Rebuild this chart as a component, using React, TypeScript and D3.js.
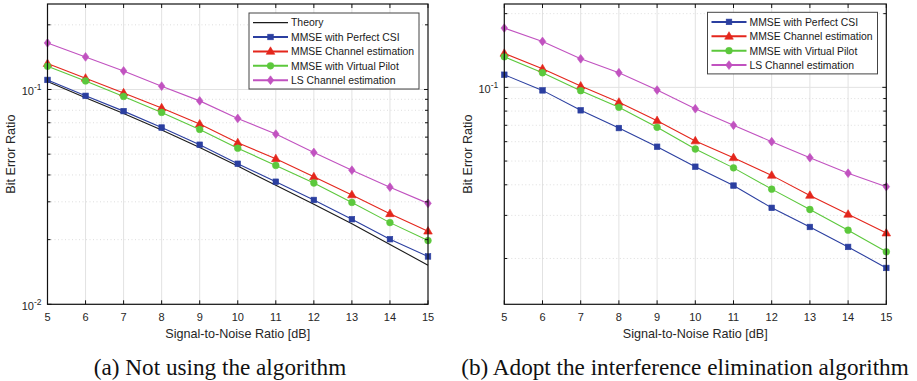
import React from 'react';
import * as d3 from 'd3';

// ---------- data ----------
const snr = [5, 6, 7, 8, 9, 10, 11, 12, 13, 14, 15];

// (a) Not using the algorithm
const theoryA = [0.1088, 0.0916, 0.0774, 0.0648, 0.0537, 0.0440, 0.0358, 0.0292, 0.0237, 0.0190, 0.0152];
const perfectA = [0.1108, 0.0934, 0.0793, 0.0665, 0.0553, 0.0451, 0.0372, 0.0306, 0.0249, 0.0201, 0.0167];
const channelA = [0.1320, 0.1128, 0.0964, 0.0821, 0.0690, 0.0565, 0.0476, 0.0392, 0.0323, 0.0264, 0.0219];
const virtualA = [0.1283, 0.1096, 0.0928, 0.0782, 0.0652, 0.0533, 0.0443, 0.0367, 0.0298, 0.0240, 0.0198];
const lsA = [0.1647, 0.1418, 0.1220, 0.1036, 0.0885, 0.0733, 0.0620, 0.0509, 0.0421, 0.0351, 0.0295];

// (b) Adopt the interference elimination algorithm
const perfectB = [0.1126, 0.0972, 0.0806, 0.0682, 0.0572, 0.0474, 0.0397, 0.0322, 0.0269, 0.0223, 0.0183];
const channelB = [0.1377, 0.1191, 0.1012, 0.0869, 0.0731, 0.0604, 0.0516, 0.0437, 0.0362, 0.0303, 0.0254];
const virtualB = [0.1333, 0.1147, 0.0969, 0.0829, 0.0687, 0.0560, 0.0469, 0.0384, 0.0317, 0.0261, 0.0213];
const lsB = [0.1746, 0.1540, 0.1308, 0.1147, 0.0975, 0.0818, 0.0700, 0.0600, 0.0516, 0.0446, 0.0393];

const xTicks = [5, 6, 7, 8, 9, 10, 11, 12, 13, 14, 15];
const yMajorTicks = [0.01, 0.1];
const yMajorExp = ['-2', '-1'];
const yMinorTicks = [0.02, 0.03, 0.04, 0.05, 0.06, 0.07, 0.08, 0.09, 0.2];
const yDomainA = [0.01, 0.25];
const yDomainB = [0.013, 0.219];

const nameTheory = 'Theory';
const namePerfect = 'MMSE with Perfect CSI';
const nameChannel = 'MMSE Channel estimation';
const nameVirtual = 'MMSE with Virtual Pilot';
const nameLS = 'LS Channel estimation';

const xLabel = 'Signal-to-Noise Ratio [dB]';
const yLabel = 'Bit Error Ratio';
const captionA = '(a) Not using the algorithm';
const captionB = '(b) Adopt the interference elimination algorithm';

// ---------- styles ----------
const C_BLUE = '#2b3fa0';
const C_RED = '#e4261c';
const C_GREEN = '#5cc83c';
const C_MAG = '#c152c0';
const C_BLACK = '#1a1a1a';
const SANS = '"Liberation Sans", Arial, sans-serif';
const SERIF = '"Liberation Serif", "Times New Roman", serif';

type Series = { name: string; values: number[]; color: string; marker: string | null };

function Marker({ type, x, y, color }: { type: string | null; x: number; y: number; color: string }) {
  if (!type) return null;
  if (type === 'square') {
    return <rect x={x - 2.8} y={y - 2.8} width={5.6} height={5.6} fill={color} stroke={color} strokeWidth={0.6} />;
  }
  if (type === 'triangle') {
    const p = `${x},${y - 4.6} ${x + 4.3},${y + 2.9} ${x - 4.3},${y + 2.9}`;
    return <polygon points={p} fill={color} stroke={color} strokeWidth={0.6} />;
  }
  if (type === 'circle') {
    return <circle cx={x} cy={y} r={3.4} fill={color} stroke={color} strokeWidth={0.5} />;
  }
  if (type === 'diamond') {
    const p = `${x},${y - 4.4} ${x + 3.3},${y} ${x},${y + 4.4} ${x - 3.3},${y}`;
    return <polygon points={p} fill={color} stroke={color} strokeWidth={0.6} />;
  }
  return null;
}

type PanelProps = {
  left: number;
  right: number;
  top: number;
  bottom: number;
  yDomain: number[];
  series: Series[];
  legend: { x: number; y: number; w: number };
  yLabelX: number;
  caption: string;
  captionX: number;
};

function Panel(p: PanelProps) {
  const x = d3.scaleLinear().domain([5, 15]).range([p.left, p.right]);
  const y = d3.scaleLog().domain(p.yDomain).range([p.bottom, p.top]);
  const inY = (v: number) => v >= p.yDomain[0] - 1e-9 && v <= p.yDomain[1] + 1e-9;
  const line = d3
    .line<number>()
    .x((_, i) => x(snr[i]))
    .y((d) => y(d));
  const tickLen = 4;
  const minorLen = 3;
  const rowH = 14.4;
  const legH = p.series.length * rowH + 4;
  const midX = (p.left + p.right) / 2;
  const midY = (p.top + p.bottom) / 2;

  return (
    <g>
      {/* grid */}
      {xTicks.slice(1, -1).map((t) => (
        <line key={'gx' + t} x1={x(t)} x2={x(t)} y1={p.top} y2={p.bottom} stroke="#e2e2e2" strokeWidth={1} />
      ))}
      {yMinorTicks.filter(inY).map((t) => (
        <line key={'gm' + t} x1={p.left} x2={p.right} y1={y(t)} y2={y(t)} stroke="#d6d6d6" strokeWidth={0.8} strokeDasharray="1,2.5" />
      ))}
      {yMajorTicks.filter(inY).map((t) => (
        <line key={'gy' + t} x1={p.left} x2={p.right} y1={y(t)} y2={y(t)} stroke="#e2e2e2" strokeWidth={1} />
      ))}

      {/* series */}
      {p.series.map((s) => (
        <g key={s.name}>
          <path d={line(s.values) || ''} fill="none" stroke={s.color} strokeWidth={1.1} />
          {s.values.map((v, i) => (
            <Marker key={i} type={s.marker} x={x(snr[i])} y={y(v)} color={s.color} />
          ))}
        </g>
      ))}

      {/* axes box */}
      <rect x={p.left} y={p.top} width={p.right - p.left} height={p.bottom - p.top} fill="none" stroke="#111" strokeWidth={1.2} />
      {xTicks.map((t) => (
        <g key={'xt' + t}>
          <line x1={x(t)} x2={x(t)} y1={p.bottom} y2={p.bottom - tickLen} stroke="#111" strokeWidth={1} />
          <line x1={x(t)} x2={x(t)} y1={p.top} y2={p.top + tickLen} stroke="#111" strokeWidth={1} />
          <text x={x(t)} y={p.bottom + 17} textAnchor="middle" fontFamily={SANS} fontSize={11} fill="#262626">
            {t}
          </text>
        </g>
      ))}
      {yMajorTicks.map((t, i) =>
        inY(t) ? (
          <g key={'ym' + t}>
            <line x1={p.left} x2={p.left + tickLen} y1={y(t)} y2={y(t)} stroke="#111" strokeWidth={1} />
            <line x1={p.right} x2={p.right - tickLen} y1={y(t)} y2={y(t)} stroke="#111" strokeWidth={1} />
            <text x={p.left - 6} y={y(t) + 6} textAnchor="end" fontFamily={SANS} fontSize={11} fill="#262626">
              10
              <tspan fontSize={8.5} dy={-5.5}>
                {yMajorExp[i]}
              </tspan>
            </text>
          </g>
        ) : null
      )}
      {yMinorTicks.filter(inY).map((t) => (
        <g key={'yn' + t}>
          <line x1={p.left} x2={p.left + minorLen} y1={y(t)} y2={y(t)} stroke="#111" strokeWidth={1} />
          <line x1={p.right} x2={p.right - minorLen} y1={y(t)} y2={y(t)} stroke="#111" strokeWidth={1} />
        </g>
      ))}

      {/* axis labels */}
      <text x={midX} y={p.bottom + 33.5} textAnchor="middle" fontFamily={SANS} fontSize={12.6} fill="#262626">
        {xLabel}
      </text>
      <text
        transform={`translate(${p.yLabelX},${midY}) rotate(-90)`}
        textAnchor="middle"
        fontFamily={SANS}
        fontSize={12.6}
        fill="#262626"
      >
        {yLabel}
      </text>

      {/* legend */}
      <rect x={p.legend.x} y={p.legend.y} width={p.legend.w} height={legH} fill="#fff" stroke="#444" strokeWidth={1} />
      {p.series.map((s, i) => {
        const cy = p.legend.y + 9.6 + i * rowH;
        const lx0 = p.legend.x + 4;
        const lx1 = p.legend.x + 39;
        return (
          <g key={'lg' + s.name}>
            <line x1={lx0} x2={lx1} y1={cy} y2={cy} stroke={s.color} strokeWidth={s.marker ? 2 : 1.4} />
            <Marker type={s.marker} x={(lx0 + lx1) / 2} y={cy} color={s.color} />
            <text x={p.legend.x + 42} y={cy + 3.8} fontFamily={SANS} fontSize={10.4} fill="#1a1a1a">
              {s.name}
            </text>
          </g>
        );
      })}

      {/* caption */}
      <text x={p.captionX} y={374.5} textAnchor="middle" fontFamily={SERIF} fontSize={23.2} fill="#111">
        {p.caption}
      </text>
    </g>
  );
}

export default function App() {
  const seriesA: Series[] = [
    { name: nameTheory, values: theoryA, color: C_BLACK, marker: null },
    { name: namePerfect, values: perfectA, color: C_BLUE, marker: 'square' },
    { name: nameChannel, values: channelA, color: C_RED, marker: 'triangle' },
    { name: nameVirtual, values: virtualA, color: C_GREEN, marker: 'circle' },
    { name: nameLS, values: lsA, color: C_MAG, marker: 'diamond' },
  ];
  const seriesB: Series[] = [
    { name: namePerfect, values: perfectB, color: C_BLUE, marker: 'square' },
    { name: nameChannel, values: channelB, color: C_RED, marker: 'triangle' },
    { name: nameVirtual, values: virtualB, color: C_GREEN, marker: 'circle' },
    { name: nameLS, values: lsB, color: C_MAG, marker: 'diamond' },
  ];
  return (
    <div style={{ position: 'fixed', left: 0, top: 0, width: 917, height: 381, background: '#fff' }}>
      <svg width={917} height={381} viewBox="0 0 917 381" style={{ display: 'block' }}>
        <rect x={0} y={0} width={917} height={381} fill="#fff" />
        <Panel
          left={47.5}
          right={428}
          top={4}
          bottom={304.3}
          yDomain={yDomainA}
          series={seriesA}
          legend={{ x: 249, y: 13, w: 170 }}
          yLabelX={14.5}
          caption={captionA}
          captionX={220}
        />
        <Panel
          left={504.3}
          right={886.3}
          top={4}
          bottom={304.3}
          yDomain={yDomainB}
          series={seriesB}
          legend={{ x: 707.5, y: 12.3, w: 170 }}
          yLabelX={472}
          caption={captionB}
          captionX={685}
        />
      </svg>
    </div>
  );
}
